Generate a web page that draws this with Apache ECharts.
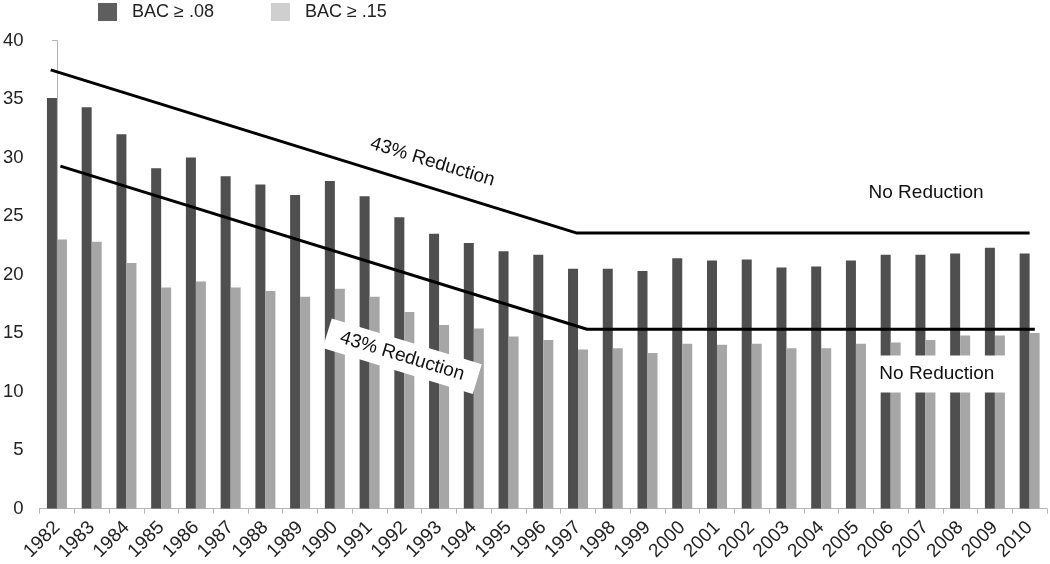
<!DOCTYPE html>
<html>
<head>
<meta charset="utf-8">
<script src="https://cdn.jsdelivr.net/npm/echarts@6/dist/echarts.min.js"></script>
<style>
html,body{margin:0;padding:0;background:#fff;}
#chart{width:1050px;height:564px;}
</style>
</head>
<body>
<div id="chart"></div>
<script>
// ---- data ----
var years = ['1982','1983','1984','1985','1986','1987','1988','1989','1990','1991','1992','1993','1994','1995','1996','1997','1998','1999','2000','2001','2002','2003','2004','2005','2006','2007','2008','2009','2010'];
var bac08 = [35.1,34.3,32.0,29.1,30.0,28.4,27.7,26.8,28.0,26.7,24.9,23.5,22.7,22.0,21.7,20.5,20.5,20.3,21.4,21.2,21.3,20.6,20.7,21.2,21.7,21.7,21.8,22.3,21.8];
var bac15 = [23.0,22.8,21.0,18.9,19.4,18.9,18.6,18.1,18.8,18.1,16.8,15.7,15.4,14.7,14.4,13.6,13.7,13.3,14.1,14.0,14.1,13.7,13.7,14.1,14.2,14.4,14.8,14.8,15.0];
// trend lines: [category position, value]
var trend08 = [[-0.18,37.5],[14.97,23.55],[28.0,23.55]];
var trend15 = [[0.10,29.27],[15.26,15.33],[28.15,15.33]];
var yTicks = {min:0, max:40, interval:5};
// annotations: [category position, value, text, rotation(deg), boxed]
var notes = [
  [10.81, 29.62, '43% Reduction', -17, false],
  [25.02, 26.97, 'No Reduction', 0, false],
  [9.94, 13.03, '43% Reduction', -17, true],
  [25.33, 11.5, 'No Reduction', 0, true]
];

var font = '"Liberation Sans", Arial, sans-serif';
var chart = echarts.init(document.getElementById('chart'));
var option = {
  animation:false,
  backgroundColor:'#fff',
  textStyle:{fontFamily:font},
  legend:{
    left:98, top:3, padding:0,
    itemWidth:19, itemHeight:18, itemGap:57,
    icon:'rect',
    textStyle:{fontSize:18, color:'#222', fontFamily:font, padding:[0,0,0,10]},
    data:[
      {name:'BAC ≥ .08', itemStyle:{color:'#5e5e5e'}},
      {name:'BAC ≥ .15', itemStyle:{color:'#cfcfcf'}}
    ]
  },
  grid:{left:39, right:3, top:40.6, bottom:55.4, containLabel:false},
  xAxis:[
    {type:'category', data:years, boundaryGap:true,
     axisLine:{lineStyle:{color:'#b5b5b5', width:1}},
     axisTick:{show:true, length:5, lineStyle:{color:'#b5b5b5'}},
     axisLabel:{rotate:45, fontSize:19, color:'#222', margin:16, interval:0, fontFamily:font},
     splitLine:{show:false}},
    {type:'value', min:-0.5, max:28.5, show:false, gridIndex:0}
  ],
  yAxis:{type:'value', min:yTicks.min, max:yTicks.max, interval:yTicks.interval,
     axisLine:{show:true, lineStyle:{color:'#b5b5b5'}},
     axisTick:{show:true, length:5, lineStyle:{color:'#b5b5b5'}},
     axisLabel:{fontSize:18.5, color:'#222', margin:16, fontFamily:font},
     splitLine:{show:false}},
  series:[
    {name:'BAC ≥ .08', type:'bar', data:bac08, barWidth:10, barGap:'0%',
     itemStyle:{color:'#4f4f4f'}},
    {name:'BAC ≥ .15', type:'bar', data:bac15, barWidth:10, barGap:'0%',
     itemStyle:{color:'#a6a6a6'}},
    {name:'t08', type:'line', xAxisIndex:1, data:trend08, symbol:'none', z:5,
     lineStyle:{color:'#000', width:3}},
    {name:'t15', type:'line', xAxisIndex:1, data:trend15, symbol:'none', z:5,
     lineStyle:{color:'#000', width:3}}
  ]
};
chart.setOption(option);

var g = notes.map(function(n){
  var p = chart.convertToPixel({xAxisIndex:1, yAxisIndex:0}, [n[0], n[1]]);
  var st = {text:n[2], font:'19px ' + font, fill:'#111', align:'center', verticalAlign:'middle'};
  if (n[4]) { st.backgroundColor = '#fff'; st.padding = n[3] ? [6,14] : [9,12]; }
  return {type:'text', x:p[0], y:p[1], rotation:n[3]*Math.PI/180, z:100, style:st};
});
chart.setOption({graphic:g});
</script>
</body>
</html>
